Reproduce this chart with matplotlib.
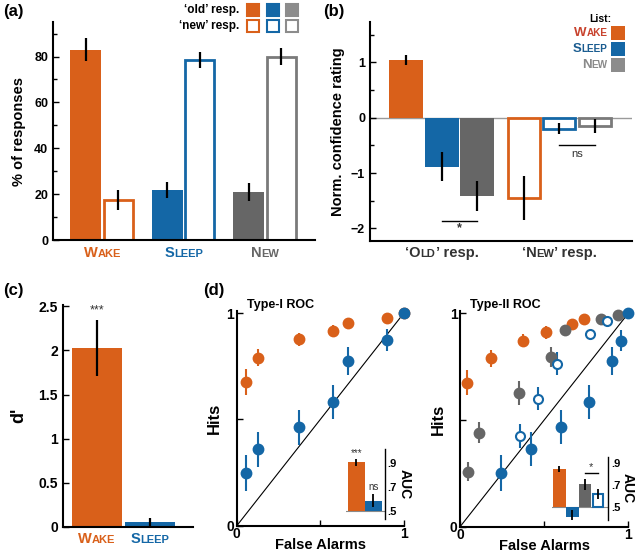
import numpy as np
import matplotlib
matplotlib.use('Agg')
import matplotlib.pyplot as plt
from matplotlib.offsetbox import TextArea, HPacker, VPacker, DrawingArea, AnnotationBbox
from matplotlib.patches import Rectangle

plt.rcParams['font.family'] = ['Liberation Sans', 'DejaVu Sans']
plt.rcParams['font.weight'] = 'bold'
plt.rcParams['axes.labelweight'] = 'bold'

ORANGE = '#D9601A'
BLUE = '#1467A6'
GREY = '#666666'
GREY_EDGE = '#7a7a7a'
GREY_LEG = '#8c8c8c'

# (a) % of responses
lists = ['Wake', 'Sleep', 'New']
old_pct = [83, 22, 21]
old_pct_err = [5, 3.5, 4]
new_pct = [17.5, 78.5, 80]
new_pct_err = [4.5, 3.5, 3.8]

# (b) normalised confidence
conf_old = [1.05, -0.88, -1.42]
conf_old_err = [0.09, 0.27, 0.27]
conf_new = [-1.45, -0.2, -0.15]
conf_new_err = [0.4, 0.1, 0.13]

# (c) d'
dprime = [2.03, 0.05]
dprime_err = [0.32, 0.05]

# (d) Type-I ROC
fa_I = [0.056, 0.125, 0.375, 0.578, 0.667, 0.902, 1.0]
hits_I_wake = [0.675, 0.79, 0.877, 0.916, 0.953, 0.977, 1.0]
err_I_wake = [0.062, 0.04, 0.03, 0.03, 0.015, 0.01, 0]
hits_I_sleep = [0.248, 0.36, 0.464, 0.582, 0.776, 0.873, 1.0]
err_I_sleep = [0.085, 0.082, 0.082, 0.078, 0.066, 0.053, 0]
auc_I = [0.905, 0.585]
auc_I_err = [0.03, 0.055]

# (d) Type-II ROC
fa_II_wake = [0.04, 0.183, 0.374, 0.513, 0.666, 0.736]
hits_II_wake = [0.676, 0.79, 0.873, 0.912, 0.949, 0.972]
err_II_wake = [0.06, 0.04, 0.03, 0.03, 0.012, 0.01]
fa_II_new = [0.046, 0.111, 0.35, 0.541, 0.622, 0.839, 0.938]
hits_II_new = [0.258, 0.44, 0.626, 0.796, 0.923, 0.972, 0.995]
err_II_new = [0.045, 0.05, 0.055, 0.045, 0.015, 0.01, 0]
fa_II_sleep_new = [0.354, 0.461, 0.577, 0.775, 0.875]
hits_II_sleep_new = [0.425, 0.601, 0.764, 0.904, 0.966]
err_II_sleep_new = [0.055, 0.055, 0.055, 0.02, 0.01]
fa_II_sleep = [0.245, 0.421, 0.6, 0.765, 0.905, 0.96, 1.0]
hits_II_sleep = [0.252, 0.363, 0.468, 0.583, 0.776, 0.872, 1.0]
err_II_sleep = [0.085, 0.08, 0.08, 0.08, 0.065, 0.05, 0]
auc_II = [0.845, 0.408, 0.706, 0.614]
auc_II_err = [0.03, 0.06, 0.05, 0.045]

list_cols = [ORANGE, BLUE, GREY]
edge_cols = [ORANGE, BLUE, GREY_EDGE]
text_cols = [ORANGE, BLUE, GREY]
ekw = dict(ecolor='k', elinewidth=1.6, capsize=0)


def sc_box(parts, color, big=10.5, small=8):
    areas = [TextArea(t, textprops=dict(color=color, size=big if b else small,
                                        weight='bold'))
             for t, b in parts]
    return HPacker(children=areas, align='baseline', pad=0, sep=0)


def word_parts(w):
    return [(w[0], True), (w[1:].upper(), False)]


def put(ax, box, xy, xycoords, offset=(0, -4), align=(0.5, 1)):
    ab = AnnotationBbox(box, xy, xycoords=xycoords, xybox=offset,
                        boxcoords='offset points', box_alignment=align,
                        frameon=False, pad=0, annotation_clip=False)
    ax.add_artist(ab)


def square(fc, ec, size=8.5, lw=1.5):
    da = DrawingArea(size, size, 0, 0)
    da.add_artist(Rectangle((0, 0), size, size, fc=fc, ec=ec, lw=lw))
    return da


def style(ax):
    for s in ['top', 'right']:
        ax.spines[s].set_visible(False)
    for s in ['left', 'bottom']:
        ax.spines[s].set_linewidth(1.5)
    ax.tick_params(which='both', direction='in', width=1, labelsize=9)
    ax.tick_params(which='major', length=4)
    ax.tick_params(which='minor', length=3)


fig = plt.figure(figsize=(6.4, 5.52), dpi=100)

# ---------------- (a)
ax = fig.add_axes([0.083, 0.565, 0.409, 0.395])
x = np.arange(3)
ax.bar(x - 0.2, old_pct, 0.38, color=list_cols, yerr=old_pct_err, error_kw=ekw, zorder=2)
ax.bar(x + 0.2, new_pct, 0.355, color='white', edgecolor=edge_cols, linewidth=2,
       yerr=new_pct_err, error_kw=ekw, zorder=2)
ax.set_xlim(-0.6, 2.61)
ax.set_ylim(0, 95)
ax.set_yticks([0, 20, 40, 60, 80])
ax.set_yticks(np.arange(10, 95, 10), minor=True)
ax.set_xticks([])
style(ax)
ax.set_ylabel('% of responses', fontsize=10.5, labelpad=6)
for i, w in enumerate(lists):
    put(ax, sc_box(word_parts(w), text_cols[i]), (x[i], 0), ('data', 'axes fraction'))

rows = []
for lab, filled in [('\u2018old\u2019 resp.', True), ('\u2018new\u2019 resp.', False)]:
    kids = [TextArea(lab, textprops=dict(size=8.5, weight='bold'))]
    for fc, ec in zip([ORANGE, BLUE, GREY_LEG], [ORANGE, BLUE, GREY_LEG]):
        kids.append(square(fc if filled else 'white', ec))
    rows.append(HPacker(children=kids, align='center', pad=0, sep=5.5))
leg_a = VPacker(children=rows, align='right', pad=0, sep=3)
put(ax, leg_a, (298 / 640, 1 - 4 / 552), 'figure fraction', offset=(0, 0), align=(1, 1))

# ---------------- (b)
ax = fig.add_axes([0.578, 0.564, 0.409, 0.396])
g = np.arange(2)
offs = np.array([-0.302, 0, 0.302])
ax.axhline(0, color='#9a9a9a', lw=1, zorder=1)
ax.bar(g[0] + offs, conf_old, 0.29, color=list_cols, yerr=conf_old_err, error_kw=ekw, zorder=2)
ax.bar(g[1] + offs, conf_new, 0.27, color='white', edgecolor=edge_cols, linewidth=2,
       yerr=conf_new_err, error_kw=ekw, zorder=2)
ax.set_xlim(-0.613, 1.617)
ax.set_ylim(-2.22, 1.73)
ax.set_yticks([-2, -1, 0, 1])
ax.set_yticks(np.arange(-2, 1.6, 0.5), minor=True)
ax.set_xticks([])
style(ax)
ax.set_ylabel('Norm. confidence rating', fontsize=10.5, labelpad=4)
ax.plot(g[0] + offs[1:], [-1.86, -1.86], color='k', lw=1)
ax.text(g[0] + 0.151, -2.0, '*', ha='center', va='center', fontsize=9, color='#333')
ax.plot(g[1] + offs[1:], [-0.49, -0.49], color='k', lw=1)
ax.text(g[1] + 0.151, -0.66, 'ns', ha='center', va='center', fontsize=8,
        weight='normal', color='#333')
put(ax, sc_box([('\u2018O', True), ('LD', False), ('\u2019 resp.', True)], '#333'),
    (g[0], 0), ('data', 'axes fraction'))
put(ax, sc_box([('\u2018N', True), ('EW', False), ('\u2019 resp.', True)], '#333'),
    (g[1], 0), ('data', 'axes fraction'))
fig.text(600 / 640, 1 - 19 / 552, 'List:', ha='center', va='center', fontsize=7.5)
rows = []
for w, tc, fc in zip(lists, ['#C8432E', '#1A5C90', '#8a8a8a'], [ORANGE, BLUE, GREY_LEG]):
    rows.append(HPacker(children=[sc_box(word_parts(w), tc, big=9.5, small=7.2),
                                  square(fc, fc, size=10, lw=0)],
                        align='center', pad=0, sep=2.5))
leg_b = VPacker(children=rows, align='right', pad=0, sep=1.5)
put(ax, leg_b, (625 / 640, 1 - 26 / 552), 'figure fraction', offset=(0, 0), align=(1, 1))

# ---------------- (c)
ax = fig.add_axes([0.098, 0.046, 0.203, 0.402])
ax.bar([0, 1], dprime, 0.94, color=[ORANGE, BLUE], yerr=dprime_err, error_kw=ekw)
ax.set_xlim(-0.64, 1.81)
ax.set_ylim(0, 2.52)
ax.set_yticks([0, 0.5, 1, 1.5, 2, 2.5])
ax.set_yticklabels(['0', '0.5', '1', '1.5', '2', '2.5'])
ax.set_xticks([])
style(ax)
ax.tick_params(labelsize=10)
ax.set_ylabel("d'", fontsize=13, labelpad=8)
ax.text(0, dprime[0] + dprime_err[0] + 0.04, '***', ha='center', va='bottom', fontsize=9,
        weight='normal', color='#333')
for i, w in enumerate(lists[:2]):
    put(ax, sc_box(word_parts(w), text_cols[i]), (i, 0), ('data', 'axes fraction'))

# ---------------- (d) ROC panels
mk = dict(fmt='o', ms=7, elinewidth=1.5, capsize=0, mew=1.5)


def roc_axes(rect, title):
    ax = fig.add_axes(rect)
    ax.axline((0, 0), slope=1, color='k', lw=0.8, zorder=1)
    ax.set_xlim(0, 1)
    ax.set_ylim(0, 1.01)
    ax.set_xticks([0, 0.5, 1])
    ax.set_xticklabels(['0', '', '1'])
    ax.set_yticks([0, 0.5, 1])
    ax.set_yticklabels(['0', '', '1'])
    style(ax)
    ax.tick_params(labelsize=10)
    ax.tick_params(axis='x', pad=1)
    ax.tick_params(axis='y', pad=2)
    ax.set_xlabel('False Alarms', fontsize=10.5, labelpad=-2.5)
    ax.set_ylabel('Hits', fontsize=12, labelpad=3)
    ax.text(0.06, 1.03, title, transform=ax.transAxes, ha='left', va='center', fontsize=9)
    return ax


ax = roc_axes([0.370, 0.0476, 0.261, 0.389], 'Type-I ROC')
ax.errorbar(fa_I, hits_I_wake, yerr=err_I_wake, color=ORANGE, clip_on=False, **mk)
ax.errorbar(fa_I, hits_I_sleep, yerr=err_I_sleep, color=BLUE, clip_on=False, **mk)

ax = roc_axes([0.719, 0.046, 0.2625, 0.39], 'Type-II ROC')
ax.errorbar(fa_II_wake, hits_II_wake, yerr=err_II_wake, color=ORANGE, clip_on=False, **mk)
ax.errorbar(fa_II_new, hits_II_new, yerr=err_II_new, color=GREY, clip_on=False, **mk)
ax.errorbar(fa_II_sleep_new, hits_II_sleep_new, yerr=err_II_sleep_new, color=BLUE,
            mfc='white', clip_on=False, **dict(mk, ms=6.5))
ax.errorbar(fa_II_sleep, hits_II_sleep, yerr=err_II_sleep, color=BLUE, clip_on=False, **mk)


def auc_inset(rect, vals, errs, cols, hollow, ylim, xlim):
    ins = fig.add_axes(rect)
    ins.patch.set_alpha(0)
    n = len(vals)
    xs = np.arange(n)
    ins.axhline(0.5, color='#8a8a8a', lw=0.8, zorder=1)
    for i in range(n):
        if hollow[i]:
            ins.bar(xs[i], vals[i] - 0.5, 0.8, bottom=0.5, color='white', edgecolor=cols[i],
                    linewidth=1.5, zorder=2)
        else:
            ins.bar(xs[i], vals[i] - 0.5, 1.0, bottom=0.5, color=cols[i], zorder=2)
    ins.errorbar(xs, vals, yerr=errs, fmt='none', ecolor='k', elinewidth=1.3, capsize=0, zorder=3)
    ins.set_xlim(*xlim)
    ins.set_ylim(*ylim)
    for s in ['top', 'left', 'bottom']:
        ins.spines[s].set_visible(False)
    ins.spines['right'].set_linewidth(1)
    ins.yaxis.tick_right()
    ins.yaxis.set_label_position('right')
    ins.set_yticks([0.5, 0.7, 0.9])
    ins.set_yticklabels(['.5', '.7', '.9'])
    ins.tick_params(axis='y', direction='in', length=0, labelsize=8, pad=2)
    ins.set_xticks([])
    ins.set_ylabel('AUC', rotation=270, fontsize=10, labelpad=10.5)
    return ins


ins = auc_inset([0.5406, 0.0598, 0.0609, 0.1268], auc_I, auc_I_err, [ORANGE, BLUE],
                [False, False], (0.43, 1.017), (-0.62, 1.68))
ins.text(0, auc_I[0] + auc_I_err[0] + 0.01, '***', ha='center', va='bottom', fontsize=7,
         weight='normal', color='#333')
ins.text(1, auc_I[1] + auc_I_err[1] + 0.02, 'ns', ha='center', va='bottom', fontsize=7,
         weight='normal', color='#333')

ins = auc_inset([0.8625, 0.058, 0.0875, 0.1147], auc_II, auc_II_err,
                [ORANGE, BLUE, GREY, BLUE], [False, False, False, True],
                (0.377, 0.96), (-0.58, 3.81))
ins.plot([2, 3], [0.81, 0.81], color='k', lw=1)
ins.text(2.5, 0.82, '*', ha='center', va='bottom', fontsize=8, weight='normal', color='#333')

# panel letters
for lab, px, py in [('(a)', 3, 4), ('(b)', 323, 4), ('(c)', 3, 283), ('(d)', 203, 283)]:
    fig.text(px / 640, 1 - py / 552, lab, ha='left', va='top', fontsize=12)

fig.savefig('out.png', dpi=100)
